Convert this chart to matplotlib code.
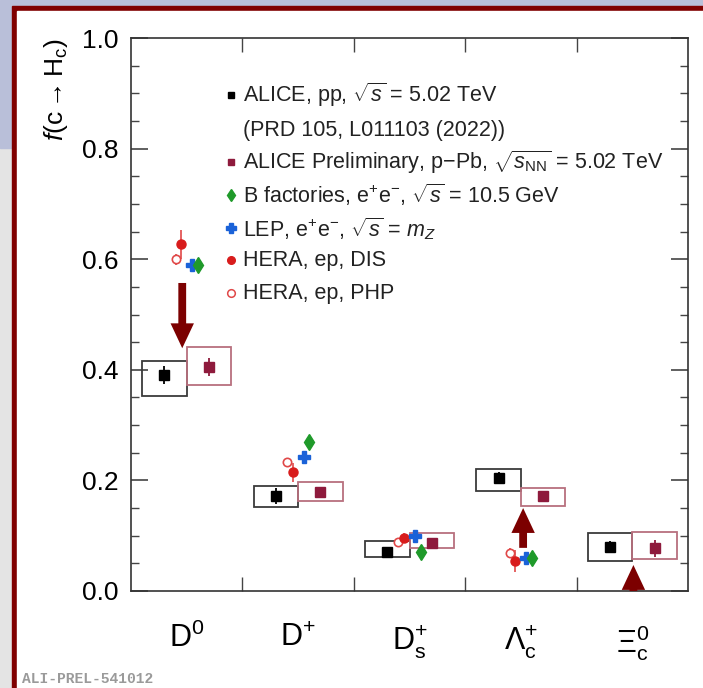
import numpy as np
import matplotlib
matplotlib.use("Agg")
import matplotlib.pyplot as plt
from matplotlib.patches import Rectangle, FancyArrow

plt.rcParams['font.family'] = ['Liberation Sans', 'DejaVu Sans']
plt.rcParams['mathtext.fontset'] = 'custom'
plt.rcParams['mathtext.rm'] = 'Liberation Sans'
plt.rcParams['mathtext.it'] = 'Liberation Sans:italic'
plt.rcParams['mathtext.bf'] = 'Liberation Sans:bold'

# hadron species
hadrons = [r'$\mathrm{D}^{0}$', r'$\mathrm{D}^{+}$', r'$\mathrm{D}_{\mathrm{s}}^{+}$',
           r'$\Lambda_{\mathrm{c}}^{+}$', r'$\Xi_{\mathrm{c}}^{0}$']

# ALICE pp 5.02 TeV
pp_val = [0.391, 0.172, 0.071, 0.204, 0.079]
pp_stat = [0.016, 0.015, 0.008, 0.011, 0.011]
pp_syst_lo = [0.353, 0.152, 0.061, 0.181, 0.055]
pp_syst_hi = [0.416, 0.190, 0.091, 0.220, 0.104]

# ALICE preliminary p-Pb 5.02 TeV
ppb_val = [0.405, 0.179, 0.087, 0.172, 0.077]
ppb_stat = [0.017, 0.006, 0.004, 0.009, 0.015]
ppb_syst_lo = [0.372, 0.163, 0.077, 0.154, 0.057]
ppb_syst_hi = [0.441, 0.197, 0.104, 0.187, 0.107]

# e+e- and ep measurements (no Xi_c)
hera_dis = [0.627, 0.215, 0.095, 0.055, np.nan]
hera_dis_err = [0.026, 0.017, 0.009, 0.020, np.nan]
hera_php = [0.600, 0.233, 0.089, 0.069, np.nan]
hera_php_err = [0.010, 0.008, 0.006, 0.008, np.nan]
lep = [0.590, 0.242, 0.099, 0.059, np.nan]
lep_err = [0.006, 0.005, 0.004, 0.004, np.nan]
bfac = [0.590, 0.269, 0.070, 0.059, np.nan]
bfac_err = [0.006, 0.006, 0.004, 0.004, np.nan]

# arrows: (x, start, end)
arrows = [(0.46, 0.557, 0.439), (3.52, 0.078, 0.150), (4.51, 0.0, 0.047)]

RED_DARK = '#7c0000'
PPB_COL = '#8e1a3c'
PPB_BOX = '#b8707e'

fig = plt.figure(figsize=(7.03, 6.88), dpi=100)
fig.patch.set_facecolor('#e4e4e4')
W, H = 703.0, 688.0
fig.patches.append(Rectangle((0, 1 - 148 / H), 1, 148 / H, transform=fig.transFigure,
                             color='#b9bfd9', zorder=-3))
fig.patches.append(Rectangle((12 / W, 0), 1, (H - 6) / H, transform=fig.transFigure,
                             color='#800000', zorder=-2))
fig.patches.append(Rectangle((17 / W, 0), 1, (H - 11) / H, transform=fig.transFigure,
                             color='white', zorder=-1))

ax = fig.add_axes([131 / W, 97 / H, 557 / W, 553 / H])
ax.set_xlim(0, 5)
ax.set_ylim(0, 1)

x = np.arange(len(hadrons)) + 0.5

# systematic boxes
for i in range(len(hadrons)):
    ax.add_patch(Rectangle((x[i] - 0.4, pp_syst_lo[i]), 0.4, pp_syst_hi[i] - pp_syst_lo[i],
                           fill=False, ec='#3a3a3a', lw=1.3, zorder=2))
    ax.add_patch(Rectangle((x[i], ppb_syst_lo[i]), 0.4, ppb_syst_hi[i] - ppb_syst_lo[i],
                           fill=False, ec=PPB_BOX, lw=1.3, zorder=2))

ax.errorbar(x - 0.2, pp_val, yerr=pp_stat, fmt='s', color='black', ms=6.5,
            elinewidth=1.3, capsize=0, zorder=4)
ax.errorbar(x + 0.2, ppb_val, yerr=ppb_stat, fmt='s', color=PPB_COL, ms=6.5,
            elinewidth=1.3, capsize=0, zorder=4)

ax.errorbar(x - 0.1, hera_php, yerr=hera_php_err, fmt='o', mfc='white', mec='#e04848',
            ecolor='#e04848', mew=1.2, ms=6, elinewidth=1.2, capsize=0, zorder=3)
ax.errorbar(x - 0.05, hera_dis, yerr=hera_dis_err, fmt='o', color='#d81c1c', ecolor='#e04848',
            ms=6.5, elinewidth=1.2, capsize=0, zorder=4)
ax.errorbar(x + 0.05, lep, yerr=lep_err, fmt='P', color='#1a62d8', ms=8.5,
            elinewidth=1.2, capsize=0, zorder=4)
ax.errorbar(x + 0.1, bfac, yerr=bfac_err, fmt='d', color='#1f9a2a', ms=8,
            elinewidth=1.2, capsize=0, zorder=4)

for ax_x, y0, y1 in arrows:
    ax.add_patch(FancyArrow(ax_x, y0, 0, y1 - y0, width=0.07, head_width=0.21,
                            head_length=0.045, length_includes_head=True,
                            color=RED_DARK, lw=0, zorder=5))

# axes styling
for s in ax.spines.values():
    s.set_linewidth(1.2)
    s.set_color('#333333')
ax.set_yticks(np.arange(0, 1.01, 0.2))
ax.set_yticks(np.arange(0, 1.001, 0.05), minor=True)
ax.set_yticklabels(['0.0', '0.2', '0.4', '0.6', '0.8', '1.0'])
ax.set_xticks([1, 2, 3, 4])
ax.set_xticklabels([])
ax.set_xticks(x, hadrons, minor=True)
ax.tick_params(axis='y', which='major', direction='in', length=12, width=1.2,
               left=True, right=True, labelsize=19, pad=9, color='#444444')
ax.tick_params(axis='y', which='minor', direction='in', length=6, width=1.0,
               left=True, right=True, color='#444444')
ax.tick_params(axis='x', which='major', direction='in', length=10, width=1.0,
               bottom=True, top=True, color='#444444')
ax.tick_params(axis='x', which='minor', length=0, labelsize=22, pad=23)

ax.set_ylabel(r'$f$(c$\rightarrow$H$_{\mathrm{c}}$)', fontsize=19, loc='top')
ax.yaxis.set_label_coords(-0.11, 1.0)

# legend
leg_x_marker = 0.1795
leg_x_text = 0.2011
rows = [0.8964, 0.8331, 0.7763, 0.7161, 0.6558, 0.5985, 0.5383]
labels = [r'ALICE, pp, $\sqrt{s}$ = 5.02 TeV',
          '(PRD 105, L011103 (2022))',
          r'ALICE Preliminary, p$-$Pb, $\sqrt{s_{\mathrm{NN}}}$ = 5.02 TeV',
          r'B factories, e$^{+}$e$^{-}$, $\sqrt{s}$ = 10.5 GeV',
          r'LEP, e$^{+}$e$^{-}$, $\sqrt{s}$ = $m_{Z}$',
          'HERA, ep, DIS',
          'HERA, ep, PHP']
styles = [dict(marker='s', color='black', ms=5),
          None,
          dict(marker='s', color=PPB_COL, ms=5),
          dict(marker='d', color='#1f9a2a', ms=6.5),
          dict(marker='P', color='#1a62d8', ms=6.5),
          dict(marker='o', color='#d81c1c', ms=5.5),
          dict(marker='o', mfc='white', mec='#e04848', mew=1.1, ms=5.5, color='#e04848')]
for yr, lab, st in zip(rows, labels, styles):
    if st is not None:
        ax.plot([leg_x_marker], [yr], ls='none', transform=ax.transAxes, clip_on=False, **st)
    ax.text(leg_x_text, yr, lab, transform=ax.transAxes, fontsize=15.5, va='center',
            ha='left', color='#222222')

fig.text(22 / W, 1 - 683 / H, 'ALI-PREL-541012', fontsize=10.5, color='#9a9a9a',
         family=['Liberation Mono', 'DejaVu Sans Mono'], fontweight='bold',
         ha='left', va='baseline')

fig.savefig('out.png', dpi=100, facecolor=fig.get_facecolor())
